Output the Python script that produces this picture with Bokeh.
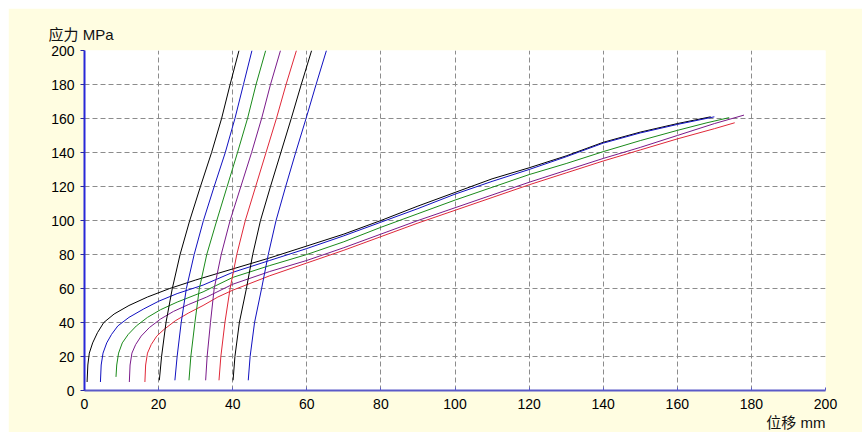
from bokeh.plotting import figure
from bokeh.models import Range1d, FixedTicker, Title
from bokeh.embed import file_html
from bokeh.resources import INLINE

ticks = [0, 20, 40, 60, 80, 100, 120, 140, 160, 180, 200]

# long loading curves (displacement mm, stress MPa)
long_black_x = [0.7, 0.9, 1.3, 2.2, 3.5, 5.2, 8.0, 12.0, 17.0, 23.0, 30.0, 40.0, 50.0, 60.0, 70.0, 80.0, 90.0, 100.0, 110.0, 120.0, 130.0, 140.0, 150.0, 160.0, 169.0]
long_black_y = [5, 15, 22, 28, 34, 40, 45, 50, 55, 60, 65, 71.5, 78, 85, 92, 100, 108.5, 116.5, 124.5, 131, 138, 146, 152, 157, 161]
long_blue_x = [4.3, 4.5, 5.0, 6.0, 7.3, 9.0, 12.0, 16.0, 20.0, 25.0, 32.0, 40.0, 50.0, 60.0, 70.0, 80.0, 90.0, 100.0, 110.0, 120.0, 130.0, 140.0, 150.0, 160.0, 170.0]
long_blue_y = [5, 15, 22, 28, 33, 38, 43, 48, 52.5, 57, 62, 69.5, 76.5, 83.5, 91, 99, 107, 115.5, 123, 130, 137.5, 145.5, 151.5, 156.5, 161]
long_green_x = [8.5, 8.7, 9.2, 10.2, 11.8, 14.0, 17.0, 20.5, 25.0, 32.0, 40.0, 50.0, 60.0, 70.0, 80.0, 90.0, 100.0, 110.0, 120.0, 130.0, 140.0, 150.0, 160.0, 168.0, 174.0]
long_green_y = [8, 15, 22, 28, 33, 38, 43, 47.5, 52, 58, 66.5, 73.5, 80, 87.5, 96, 104, 112, 119.5, 127, 133.5, 140.5, 147, 153, 157.5, 160.5]
long_purple_x = [12.1, 12.3, 12.8, 13.8, 15.3, 17.5, 20.5, 24.0, 28.0, 33.0, 40.0, 50.0, 60.0, 70.0, 80.0, 90.0, 100.0, 110.0, 120.0, 130.0, 140.0, 150.0, 160.0, 170.0, 178.0]
long_purple_y = [5, 15, 22, 27, 32, 37, 42, 46.5, 50.5, 55, 62.5, 70, 76.5, 84, 92, 100, 107.5, 115, 122.5, 129.5, 136.5, 143, 150, 157, 162]
long_red_x = [16.3, 16.5, 17.0, 18.0, 19.5, 21.5, 24.5, 28.0, 32.0, 36.0, 40.0, 50.0, 60.0, 70.0, 80.0, 90.0, 100.0, 110.0, 120.0, 130.0, 140.0, 150.0, 160.0, 170.0, 175.5]
long_red_y = [5, 15, 22, 27, 32, 36, 41, 45.5, 50, 55, 59, 67.5, 75, 82.5, 90.5, 98.5, 106, 113.5, 121, 128, 135, 141.5, 148, 154, 157.5]

# steep unloading/reloading lines
steep_y = [6, 20, 40, 60, 80, 100, 120, 140, 160, 180, 200]
steep1_x = [20.2, 20.8, 22.0, 23.7, 25.8, 28.4, 31.3, 34.3, 37.0, 39.3, 41.7]
steep2_x = [24.4, 25.0, 26.1, 27.5, 29.6, 32.1, 35.0, 38.0, 40.6, 42.9, 45.2]
steep3_x = [28.2, 28.7, 29.8, 31.0, 33.0, 35.7, 38.5, 41.3, 44.0, 46.3, 48.9]
steep4_x = [32.7, 33.1, 34.0, 35.0, 36.9, 39.3, 42.2, 45.1, 47.8, 50.2, 52.9]
steep5_x = [36.3, 36.8, 37.9, 39.3, 41.1, 43.4, 46.2, 49.0, 51.8, 54.4, 57.2]
steep6_x = [40.1, 40.6, 41.8, 43.7, 45.4, 47.5, 50.2, 53.0, 55.8, 58.5, 61.3]
steep7_x = [44.2, 44.7, 45.9, 47.8, 49.6, 51.7, 54.3, 57.0, 59.8, 62.5, 65.3]

y_title = "应力 MPa"
x_title = "位移 mm"

BLACK, BLUE, GREEN, PURPLE, RED = "#000000", "#1010c0", "#1a8a1a", "#7a1a8a", "#e02838"
FONT = "'Liberation Sans', 'Noto Sans CJK SC', sans-serif"

p = figure(width=854, height=424, output_backend="svg", toolbar_location=None,
           x_range=Range1d(0, 200), y_range=Range1d(0, 200),
           min_border_left=76, min_border_right=37, min_border_top=42, min_border_bottom=42)
p.margin = (8, 0, 0, 8)
p.border_fill_color = "#FFFDE1"
p.background_fill_color = "#FFFFFF"
p.outline_line_color = None

for ax in (p.xaxis[0], p.yaxis[0]):
    ax.ticker = FixedTicker(ticks=ticks)
    ax.minor_tick_line_color = None
    ax.axis_line_width = 2
    ax.major_label_text_font = "Liberation Sans"
    ax.major_label_text_font_size = "14px"
    ax.major_label_text_color = "#000000"

p.yaxis.axis_line_color = "#2828d8"
p.yaxis.major_tick_line_color = "#2828a0"
p.yaxis.major_tick_out = 4
p.yaxis.major_tick_in = 0
p.yaxis.major_label_standoff = 6
p.xaxis.axis_line_color = "#5a5ac8"
p.xaxis.major_tick_line_color = "#5a5ac8"
p.xaxis.major_tick_out = 0
p.xaxis.major_tick_in = 3
p.xaxis.major_label_standoff = 8

for g in (p.xgrid[0], p.ygrid[0]):
    g.ticker = FixedTicker(ticks=ticks)
    g.grid_line_color = "#8c8c8c"
    g.grid_line_dash = "5 3"
    g.grid_line_width = 1

p.line(long_black_x, long_black_y, line_color=BLACK, line_width=1)
p.line(long_blue_x, long_blue_y, line_color=BLUE, line_width=1)
p.line(long_green_x, long_green_y, line_color=GREEN, line_width=1)
p.line(long_purple_x, long_purple_y, line_color=PURPLE, line_width=1)
p.line(long_red_x, long_red_y, line_color=RED, line_width=1)

for xs, c in ((steep1_x, BLACK), (steep2_x, BLUE), (steep3_x, GREEN), (steep4_x, PURPLE),
              (steep5_x, RED), (steep6_x, BLACK), (steep7_x, BLUE)):
    p.line(xs, steep_y, line_color=c, line_width=1)

p.add_layout(Title(text=y_title, align="left", offset=-36, standoff=16,
                   text_font=FONT, text_font_size="15px", text_font_style="normal",
                   text_color="#111111"), "above")
p.add_layout(Title(text=x_title, align="right", offset=0, standoff=1,
                   text_font=FONT, text_font_size="15px", text_font_style="normal",
                   text_color="#111111"), "below")

open("out.html", "w").write(file_html(p, INLINE))
